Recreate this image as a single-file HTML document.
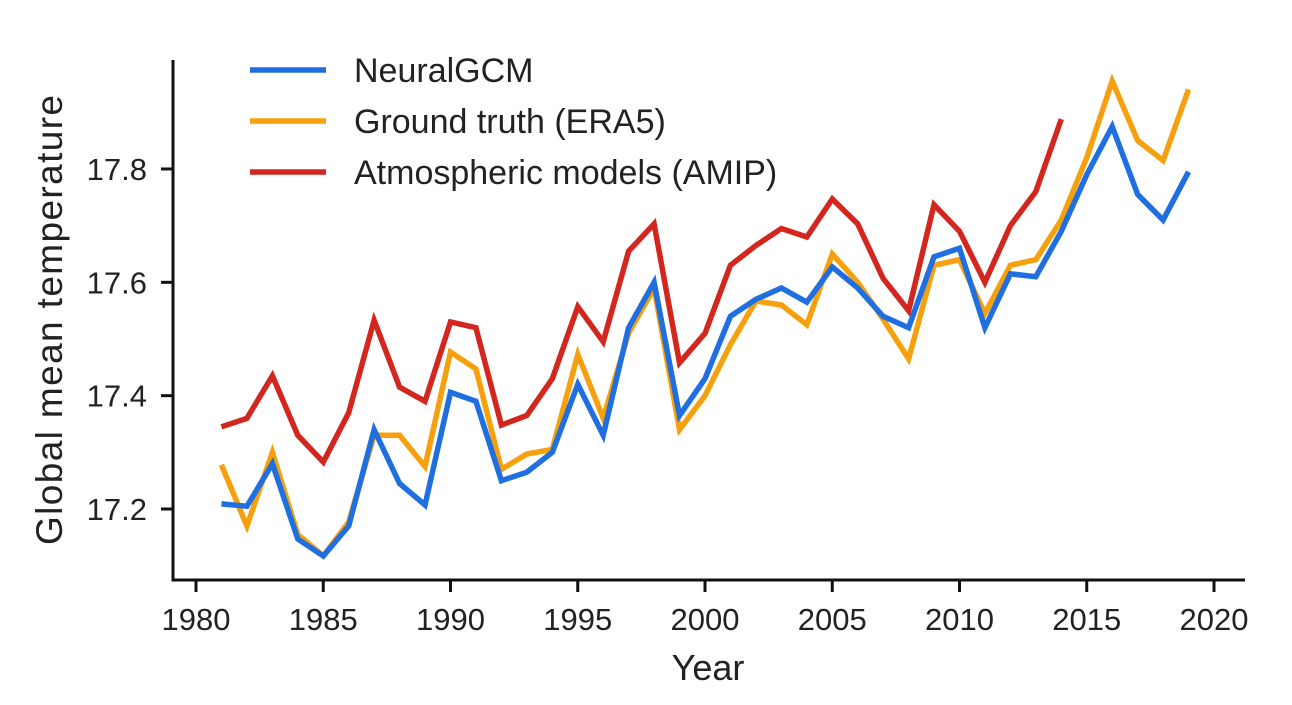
<!DOCTYPE html>
<html><head><meta charset="utf-8"><style>
body{margin:0;background:#fff;}
svg text{font-family:"Liberation Sans",sans-serif;fill:#222;}
</style></head><body>
<svg id="chart" width="1292" height="700" xmlns="http://www.w3.org/2000/svg">
<g id="axes"></g><g id="series"></g><g id="legend"></g>
</svg>
<script>
const years=[];for(let y=1981;y<=2019;y++)years.push(y);
const neural=[17.209,17.205,17.28,17.147,17.117,17.17,17.34,17.245,17.207,17.406,17.39,17.25,17.265,17.30,17.42,17.33,17.52,17.60,17.365,17.43,17.54,17.57,17.59,17.565,17.627,17.59,17.54,17.52,17.645,17.66,17.52,17.615,17.61,17.69,17.79,17.875,17.755,17.71,17.795];
const era5=[17.278,17.17,17.30,17.155,17.117,17.177,17.33,17.33,17.275,17.477,17.447,17.27,17.297,17.305,17.473,17.36,17.51,17.59,17.34,17.40,17.49,17.567,17.56,17.525,17.65,17.6,17.535,17.465,17.63,17.64,17.545,17.63,17.64,17.71,17.82,17.955,17.85,17.815,17.94];
const amip=[17.345,17.36,17.435,17.33,17.283,17.37,17.533,17.415,17.39,17.53,17.52,17.348,17.365,17.43,17.557,17.495,17.655,17.703,17.458,17.51,17.63,17.665,17.695,17.68,17.747,17.703,17.607,17.55,17.737,17.69,17.6,17.7,17.76,17.888];
const xTicks=[1980,1985,1990,1995,2000,2005,2010,2015,2020];
const yTicks=[17.2,17.4,17.6,17.8];
const seriesNames=["NeuralGCM","Ground truth (ERA5)","Atmospheric models (AMIP)"];
const NS="http://www.w3.org/2000/svg";
const X=v=>196+(v-1980)*25.45;
const Y=v=>509-(v-17.2)*566.7;
function mk(tag,attrs,parent,text){const e=document.createElementNS(NS,tag);for(const k in attrs)e.setAttribute(k,attrs[k]);if(text!==undefined)e.textContent=text;parent.appendChild(e);return e;}
const axes=document.getElementById('axes'),ser=document.getElementById('series'),leg=document.getElementById('legend');
let e=mk('path',{d:'M173,60 V580 H1245',fill:'none',stroke:'#111','stroke-width':3},axes);


xTicks.forEach(t=>{
 let l=mk('line',{x1:X(t),x2:X(t),y1:580,y2:592,stroke:'#111','stroke-width':3},axes);
 
 
 let tx=mk('text',{x:X(t),y:630,'text-anchor':'middle','font-size':31},axes,t);
 
 
});
yTicks.forEach(t=>{
 let l=mk('line',{x1:161,x2:173,y1:Y(t),y2:Y(t),stroke:'#111','stroke-width':3},axes);
 
 
 let tx=mk('text',{x:147,y:Y(t)+11,'text-anchor':'end','font-size':31},axes,t.toFixed(1));
 
 
});
e=mk('text',{x:708,y:680,'text-anchor':'middle','font-size':36},axes,'Year');


e=mk('text',{x:0,y:0,'text-anchor':'middle','font-size':37,'textLength':450,transform:'translate(62,320) rotate(-90)'},axes,'Global mean temperature');


const colors=['#1f6fe0','#f5a00c','#d2261e'];
[era5,neural,amip].forEach((arr,i)=>{
 const ci=[1,0,2][i];
 const d=arr.map((v,j)=>(j?'L':'M')+X(years[j]).toFixed(1)+','+Y(v).toFixed(1)).join(' ');
 let p=mk('path',{d:d,fill:'none',stroke:colors[ci],'stroke-width':5.5,'stroke-linejoin':'miter'},ser);
 
 
});
seriesNames.forEach((n,i)=>{
 const y=70+i*51;
 let l=mk('line',{x1:250,x2:326,y1:y,y2:y,stroke:colors[i],'stroke-width':5.5},leg);
 
 
 let t=mk('text',{x:354,y:y+12,'font-size':34},leg,n);
 
 
});
</script>
</body></html>
